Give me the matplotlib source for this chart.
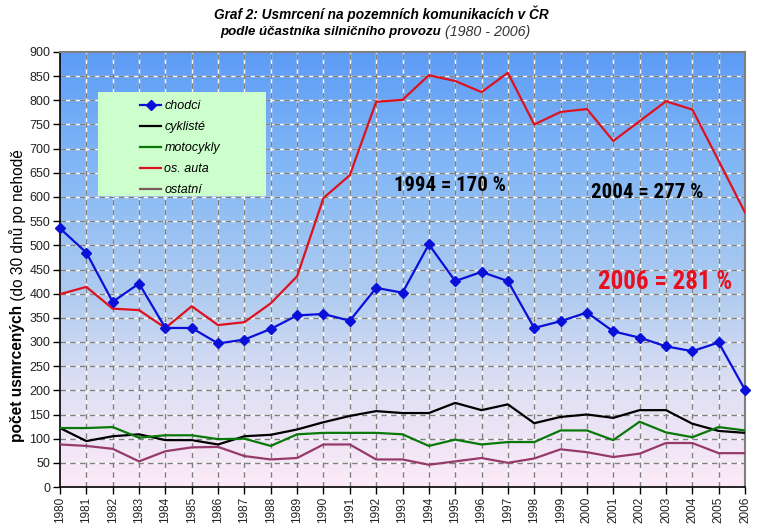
import numpy as np
import matplotlib
matplotlib.use("Agg")
import matplotlib.pyplot as plt
from matplotlib.colors import LinearSegmentedColormap
from matplotlib.lines import Line2D
from matplotlib.patches import Rectangle
from matplotlib import font_manager

years = list(range(1980, 2007))
chodci = [535, 485, 383, 421, 329, 329, 297, 305, 327, 355, 358, 344, 412, 402,
          502, 426, 445, 426, 329, 343, 361, 322, 309, 291, 281, 299, 201]
cykliste = [122, 95, 105, 109, 97, 97, 88, 105, 108, 119, 134, 147, 157, 153,
            153, 174, 159, 171, 132, 145, 150, 143, 159, 159, 131, 116, 112]
motocykly = [122, 122, 124, 102, 107, 107, 99, 100, 85, 109, 112, 112, 112, 109,
             85, 98, 88, 93, 93, 117, 117, 97, 135, 113, 103, 124, 117]
os_auta = [399, 414, 369, 366, 329, 374, 335, 341, 380, 436, 598, 645, 797, 801,
           852, 840, 817, 857, 750, 776, 782, 716, 757, 798, 781, 675, 568]
ostatni = [88, 85, 79, 53, 74, 82, 83, 64, 57, 60, 88, 88, 57, 57,
           46, 53, 60, 50, 59, 78, 72, 62, 69, 91, 91, 70, 70]

series_names = ["chodci", "cyklisté", "motocykly", "os. auta", "ostatní"]
title1 = "Graf 2: Usmrcení na pozemních komunikacích v ČR"
title2 = "podle účastníka silničního provozu"
title2b = "(1980 - 2006)"
ylabel_bold = "počet usmrcených"
ylabel_norm = " (do 30 dnů po nehodě"

plt.rcParams['font.family'] = ['Liberation Sans', 'DejaVu Sans']

# pick a narrow font if available
names = {f.name for f in font_manager.fontManager.ttflist}
narrow = None
for cand in ['Liberation Sans Narrow', 'Arial Narrow', 'Roboto Condensed',
             'Open Sans Condensed', 'DejaVu Sans Condensed']:
    if cand in names:
        narrow = cand
        break

W, H = 759, 532
fig = plt.figure(figsize=(W / 100, H / 100), dpi=100)
fig.patch.set_facecolor('white')
L, R, B, T = 60, 745, 487, 52
ax = fig.add_axes([L / W, 1 - B / H, (R - L) / W, (B - T) / H])

ax.set_xlim(1980, 2006)
ax.set_ylim(0, 900)

cmap = LinearSegmentedColormap.from_list("bg", [
    (0.0, "#fdeaf8"), (0.22, "#e0e0f4"), (0.45, "#aecbf0"),
    (0.75, "#80b6f6"), (1.0, "#5d9cf7")])
grad = np.linspace(0, 1, 256).reshape(-1, 1)
ax.imshow(grad, extent=[1980, 2006, 0, 900], origin='lower', aspect='auto',
          cmap=cmap, zorder=0, interpolation='bicubic')

for yv in range(50, 900, 50):
    ax.axhline(yv, color='white', lw=1.0, zorder=1)
    ax.axhline(yv, color='#808080', lw=1.0, ls=(0, (4, 3)), zorder=1.1)
for xv in years[1:-1]:
    ax.axvline(xv, color='white', lw=1.0, zorder=1)
    ax.axvline(xv, color='#808080', lw=1.0, ls=(0, (4, 3)), zorder=1.1)

lw = 1.6
ax.plot(years, os_auta, color='#e0101e', lw=lw, zorder=3)
ax.plot(years, cykliste, color='black', lw=lw, zorder=3)
ax.plot(years, motocykly, color='#087808', lw=lw, zorder=3)
ax.plot(years, ostatni, color='#953a6a', lw=lw, zorder=3)
ax.plot(years, chodci, color='#0a10d8', lw=lw, marker='D', ms=5, zorder=4,
        clip_on=False)

ax.set_xticks(years)
ax.set_xticklabels([str(y) for y in years], rotation=90, fontsize=8.5, color='#222222')
ax.set_yticks(range(0, 901, 50))
ax.set_yticklabels([str(v) for v in range(0, 901, 50)], fontsize=9, color='#222222')
ax.tick_params(axis='both', direction='out', length=5, width=1, pad=2)
for s in ['top', 'right']:
    ax.spines[s].set_color('#808080')
    ax.spines[s].set_linewidth(1.5)
for s in ['left', 'bottom']:
    ax.spines[s].set_color('black')
    ax.spines[s].set_linewidth(1.2)

# annotations
if narrow:
    akw = dict(family=[narrow, 'Liberation Sans'])
    s1, s2 = 15, 18
else:
    akw = dict(family=['DejaVu Sans'], stretch='condensed')
    s1, s2 = 13, 15.5
ax.text(1994.8, 623, "1994 = 170 %", fontsize=s1, fontweight='bold',
        ha='center', va='center', color='black', zorder=5, **akw)
ax.text(2002.3, 610, "2004 = 277 %", fontsize=s1, fontweight='bold',
        ha='center', va='center', color='black', zorder=5, **akw)
ax.text(2002.95, 424, "2006 = 281 %", fontsize=s2, fontweight='bold',
        ha='center', va='center', color='#e8101e', zorder=5, **akw)

# legend box
fig.patches.append(Rectangle((98 / W, 1 - 196 / H), (266 - 98) / W, (196 - 92) / H,
                             transform=fig.transFigure, facecolor='#ccffcc',
                             edgecolor='none', zorder=2))
handles = [
    Line2D([], [], color='#0a10d8', lw=lw, marker='D', ms=5),
    Line2D([], [], color='black', lw=lw),
    Line2D([], [], color='#087808', lw=lw),
    Line2D([], [], color='#e0101e', lw=lw),
    Line2D([], [], color='#7a5a5a', lw=lw),
]
leg = fig.legend(handles, series_names, loc='upper left',
                 bbox_to_anchor=(130 / W, 1 - 90 / H), frameon=False,
                 prop={'style': 'italic', 'size': 9}, handlelength=1.7,
                 handletextpad=0.25, labelspacing=0.72, borderpad=0.3)
leg.set_zorder(6)

# title
fig.text(381 / W, 1 - 14 / H, title1, ha='center', va='center', fontsize=9.8,
         fontweight='bold', style='italic')
fig.text(441 / W, 1 - 32 / H, title2, ha='right', va='center', fontsize=9.5,
         fontweight='bold', style='italic')
fig.text(445 / W, 1 - 32 / H, title2b, ha='left', va='center', fontsize=10.3,
         style='italic', color='#333333')

# ylabel (two parts, continuous)
tb = fig.text(18 / W, 1 - 442 / H, ylabel_bold, rotation=90, ha='center', va='bottom',
              fontsize=11.2, fontweight='bold')
fig.canvas.draw()
bb = tb.get_window_extent(renderer=fig.canvas.get_renderer())
top_frac = bb.y1 / fig.bbox.height
fig.text(18 / W, top_frac, ylabel_norm, rotation=90, ha='center', va='bottom',
         fontsize=11.2)

fig.savefig("out.png", dpi=100)
